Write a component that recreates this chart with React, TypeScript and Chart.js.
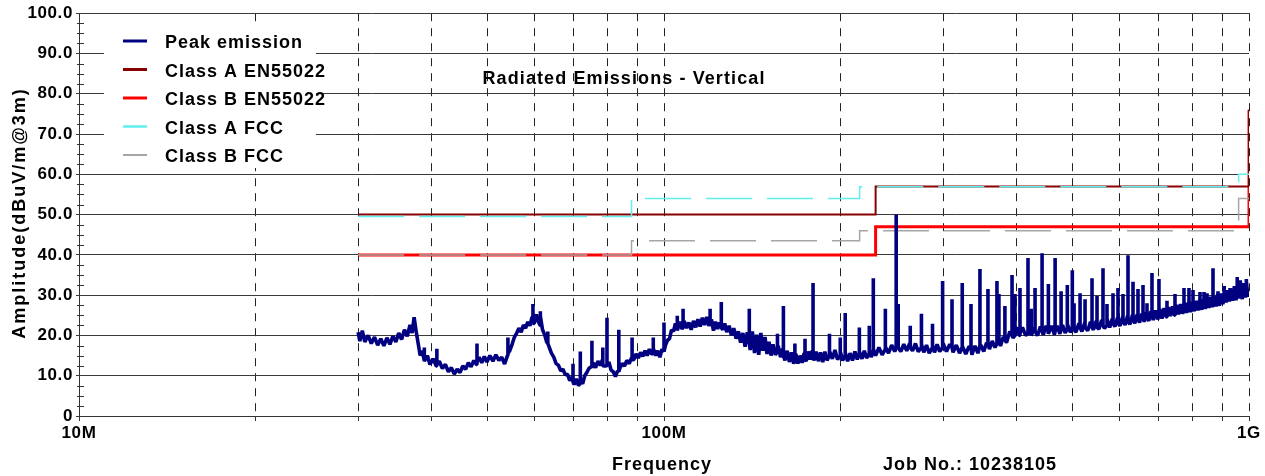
import React, { useEffect, useRef } from 'react';
import { Chart, registerables } from 'chart.js';

Chart.register(...registerables);

const FONT = '"Liberation Sans", Arial, Helvetica, sans-serif';

// ---------- axis ticks ----------
const xTickValues = [10, 20, 30, 40, 50, 60, 70, 80, 90, 100, 200, 300, 400, 500, 600, 700, 800, 900, 1000];
const xTickLabels: Record<number, string> = { 10: '10M', 100: '100M', 1000: '1G' };
const yMinorStep = 2.5;

// ---------- legend ----------
const seriesNames = ['Peak emission', 'Class A EN55022', 'Class B EN55022', 'Class A FCC', 'Class B FCC'];
const seriesColors = ['#000080', '#880000', '#ff0000', '#60eeee', '#a6a6a6'];

// ---------- limit lines (MHz, dBuV/m) ----------
const classAEN55022: [number, number][] = [[30, 50], [230, 50], [230, 57], [1000, 57], [1000, 76]];
const classBEN55022: [number, number][] = [[30, 40], [230, 40], [230, 47], [1000, 47], [1000, 76]];
const classAFCC: [number, number][] = [[30, 49.5], [88, 49.5], [88, 54], [216, 54], [216, 56.9], [960, 56.9], [960, 60], [1000, 60]];
const classBFCC: [number, number][] = [[30, 40], [88, 40], [88, 43.5], [216, 43.5], [216, 46], [960, 46], [960, 54], [1000, 54]];

// ---------- peak emission: noise band (MHz, dBuV/m) ----------
const emissionBand: [number, number][] = [
  [30.0, 20.8], [30.2, 18.6], [30.5, 21.2], [30.8, 18.4], [31.2, 20.0], [31.6, 18.0], [32.0, 19.6], [32.4, 17.6],
  [32.8, 19.2], [33.2, 17.4], [33.6, 19.4], [34.0, 17.8], [34.4, 19.8], [34.8, 18.4], [35.2, 20.6], [35.6, 19.0],
  [36.0, 21.4], [36.4, 19.8], [36.8, 22.6], [37.1, 20.6], [37.4, 24.5], [37.7, 21.0], [38.0, 18.0], [38.3, 15.0],
  [38.6, 16.2], [39.0, 13.6], [39.4, 15.0], [39.8, 12.8], [40.3, 14.2], [40.8, 12.4], [41.3, 13.6], [41.8, 11.8],
  [42.3, 12.8], [42.8, 11.0], [43.3, 12.0], [43.8, 10.4], [44.3, 11.6], [44.8, 10.8], [45.3, 12.4], [45.8, 11.6],
  [46.3, 13.2], [46.8, 12.2], [47.3, 13.8], [47.8, 12.8], [48.3, 14.6], [48.8, 13.2], [49.3, 14.8], [49.8, 13.4],
  [50.4, 15.0], [51.0, 13.6], [51.6, 15.2], [52.2, 13.8], [52.8, 14.6], [53.4, 12.9], [54.0, 15.0],
  [54.5, 16.2], [55.0, 17.8], [55.5, 19.6], [56.0, 20.6], [56.5, 21.8], [57.0, 20.8], [57.5, 22.6], [58.0, 21.8],
  [58.5, 23.4], [59.0, 22.4], [59.5, 24.6], [60.0, 23.0], [60.5, 25.2], [61.0, 23.4], [61.6, 24.8], [62.0, 21.4],
  [62.5, 20.2], [63.0, 18.4], [63.6, 17.2], [64.2, 15.6], [64.8, 14.6], [65.4, 13.0], [66.0, 12.6], [66.6, 11.2],
  [67.2, 11.6], [67.8, 10.2], [68.4, 10.4], [69.0, 8.8], [69.6, 9.6], [70.2, 7.8], [70.8, 9.2], [71.4, 7.6],
  [72.0, 8.8], [72.6, 8.0],
  [73.2, 10.0], [73.8, 10.8], [74.4, 11.8], [75.0, 12.2], [75.7, 13.2], [76.4, 12.0], [77.1, 13.6], [77.8, 12.6],
  [78.5, 14.0], [79.2, 12.4], [80.5, 13.4], [81.2, 11.4], [81.9, 11.0], [82.6, 9.8], [83.3, 11.2], [84.0, 11.8],
  [84.8, 13.0], [85.6, 12.4], [86.4, 13.8], [87.2, 13.0], [88.0, 14.4],
  [88.8, 14.0], [89.6, 15.4], [90.4, 14.4], [91.2, 15.8], [92.0, 14.8], [92.8, 16.2], [93.6, 15.0], [94.4, 16.6],
  [95.2, 15.4], [96.0, 16.8], [96.8, 15.0], [97.6, 16.2], [98.4, 14.6], [99.2, 16.6],
  [100.6, 17.6], [101.4, 18.8], [102.2, 19.2], [103.0, 21.4], [103.8, 21.0], [104.6, 23.0], [105.5, 21.2],
  [106.4, 23.4], [107.3, 21.6], [108.3, 23.6], [109.3, 21.8], [110.3, 23.2], [111.3, 21.4], [112.3, 23.6],
  [113.3, 22.0], [114.3, 24.0], [115.3, 22.2], [116.3, 24.4], [117.3, 22.6], [118.3, 24.6], [119.3, 22.4],
  [120.5, 24.0], [121.5, 21.2], [122.5, 23.4], [123.5, 21.6], [124.5, 23.2], [126.0, 21.4], [127.0, 23.0],
  [128.0, 20.8], [129.2, 22.4], [130.4, 20.0], [131.6, 21.8], [132.8, 19.2], [134.0, 21.0], [135.2, 18.2],
  [136.4, 20.6], [137.6, 17.2], [138.8, 20.8], [140.4, 16.4], [141.6, 21.0], [142.8, 15.6], [144.0, 20.2],
  [145.2, 15.2], [146.4, 20.6], [147.6, 16.2], [148.8, 19.6], [150.0, 15.4], [151.2, 18.4], [152.4, 15.0],
  [153.6, 17.8], [155.0, 15.2], [156.8, 17.4], [158.2, 14.6], [159.6, 16.8], [161.0, 13.8], [162.4, 16.2],
  [163.8, 13.4], [165.2, 15.8], [166.6, 13.0], [168.0, 15.4], [169.4, 13.0], [170.8, 15.0], [172.2, 13.2],
  [173.6, 15.6], [175.0, 13.6], [176.4, 16.0], [177.8, 14.0], [179.2, 16.2], [180.6, 13.8], [182.0, 16.0],
  [183.6, 13.6], [185.2, 15.8], [186.8, 13.4], [188.4, 16.0], [190.0, 13.8], [192.2, 16.2], [194.0, 14.2],
  [196.0, 16.4], [198.0, 14.0], [200.4, 16.0], [202.0, 13.8], [204.4, 15.8], [206.0, 13.6], [208.0, 15.6],
  [210.0, 13.8], [212.0, 16.0], [214.0, 14.0], [216.2, 16.0], [218.0, 14.2], [220.0, 16.2], [222.0, 14.4],
  [224.6, 16.6], [226.0, 14.6], [228.4, 16.6], [230.0, 15.0],
  [233.0, 17.0], [236.0, 15.2], [239.4, 17.2], [242.0, 15.6], [245.0, 17.6], [248.0, 16.0], [250.4, 17.8],
  [254.0, 16.0], [257.0, 17.8], [260.0, 16.2], [263.0, 18.0], [266.0, 16.2], [269.0, 18.0], [272.0, 16.0],
  [275.8, 17.8], [278.0, 15.8], [281.0, 17.6], [284.0, 15.6], [288.0, 17.6], [290.0, 15.8], [293.0, 17.8],
  [296.0, 16.0], [300.0, 18.0], [304.0, 16.0], [308.0, 17.8], [312.0, 15.8], [316.0, 17.6], [320.0, 15.6],
  [324.0, 17.4], [328.0, 15.4], [332.0, 17.2], [336.0, 15.2], [340.0, 17.4], [344.0, 15.6], [348.0, 17.6],
  [352.0, 16.0], [356.0, 18.2], [360.0, 16.6], [364.0, 18.6], [368.0, 17.0], [372.0, 19.0], [376.0, 17.4],
  [380.0, 19.6], [385.0, 18.2],
  [390.0, 21.0], [395.0, 19.4], [400.0, 22.0], [405.0, 20.0], [410.0, 22.0], [415.0, 20.0], [420.0, 22.0],
  [425.0, 20.0], [430.0, 22.0], [435.0, 20.0], [440.0, 22.2], [445.0, 20.2], [450.0, 22.4], [455.0, 20.4],
  [460.0, 22.4], [465.0, 20.2], [470.0, 22.4], [475.0, 20.4], [480.0, 22.6], [485.0, 20.6], [490.0, 22.8],
  [495.0, 20.8], [500.0, 22.8], [506.0, 20.8], [512.0, 23.0], [518.0, 21.0], [524.0, 23.2], [530.0, 21.2],
  [536.0, 23.4], [542.0, 21.4], [548.0, 23.6], [554.0, 21.6], [560.0, 23.8], [566.0, 21.8], [572.0, 24.0],
  [578.0, 22.0], [584.0, 24.2], [590.0, 22.2], [596.0, 24.4], [602.0, 22.4], [608.0, 24.6], [614.0, 22.6],
  [620.0, 24.8], [626.0, 22.8], [632.0, 25.0], [638.0, 23.0], [644.0, 25.2], [650.0, 23.2], [656.0, 25.4],
  [662.0, 23.4], [668.0, 25.8], [674.0, 23.6], [680.0, 26.0], [686.0, 23.8], [692.0, 26.2], [698.0, 24.0],
  [704.0, 26.6], [710.0, 24.2], [716.0, 26.8], [722.0, 24.6], [728.0, 27.0], [734.0, 24.8], [740.0, 27.2],
  [746.0, 25.0], [752.0, 27.6], [758.0, 25.2], [764.0, 27.8], [770.0, 25.4], [776.0, 28.0], [782.0, 25.6],
  [788.0, 28.2], [794.0, 25.8], [800.0, 28.4], [806.0, 26.0], [812.0, 28.6], [818.0, 26.2], [824.0, 28.8],
  [830.0, 26.4], [836.0, 29.0], [842.0, 26.6], [848.0, 29.4], [854.0, 26.8], [860.0, 29.6], [866.0, 27.0],
  [872.0, 29.8], [878.0, 27.2], [884.0, 30.2], [890.0, 27.4], [896.0, 30.4], [902.0, 27.8], [908.0, 30.8],
  [914.0, 28.2], [920.0, 31.2], [926.0, 28.4], [932.0, 31.6], [938.0, 28.6], [944.0, 32.2], [950.0, 28.8],
  [956.0, 32.8], [962.0, 29.2], [968.0, 33.4], [974.0, 29.0], [980.0, 33.0], [986.0, 29.4], [992.0, 33.4],
  [996.0, 29.6], [1000.0, 31.0],
];

// ---------- peak emission: narrow spikes (MHz, foot dB, peak dB) ----------
const emissionSpikes: [number, number, number][] = [
  [38.9, 14.0, 17.0], [40.9, 13.0, 16.7], [47.9, 13.5, 18.0], [54.1, 15.5, 19.5], [59.7, 23.0, 27.8],
  [61.4, 22.5, 26.0], [63.3, 18.0, 21.0], [69.9, 8.5, 13.0], [71.9, 8.0, 16.0], [75.3, 12.0, 18.7],
  [78.6, 12.5, 17.0], [79.9, 12.5, 24.4], [83.7, 11.0, 21.4], [88.2, 14.0, 19.5], [95.8, 15.5, 19.5],
  [100.0, 16.0, 23.2], [105.3, 22.0, 24.9], [107.8, 22.0, 26.6], [119.9, 23.0, 26.6], [125.3, 22.0, 28.3],
  [139.9, 18.0, 26.6], [156.3, 16.0, 20.4], [160.0, 15.0, 27.3], [167.4, 14.0, 18.0], [174.2, 14.0, 19.2],
  [179.8, 14.5, 33.0], [191.6, 15.0, 20.4], [200.0, 15.0, 19.5], [203.9, 15.0, 25.6], [215.5, 15.5, 22.0],
  [224.2, 15.5, 22.4], [227.7, 16.0, 34.2], [238.8, 16.5, 26.6], [249.4, 17.0, 50.0], [251.4, 17.0, 27.8],
  [263.6, 17.0, 22.4], [275.3, 17.0, 25.4], [287.6, 17.0, 22.9], [299.4, 17.0, 33.5], [310.7, 17.0, 29.0],
  [323.2, 17.0, 33.0], [334.8, 17.0, 27.8], [346.8, 17.5, 36.5], [357.9, 18.0, 31.5], [370.8, 18.0, 33.5],
  [373.7, 18.5, 30.3], [382.6, 19.0, 27.3], [393.5, 20.0, 35.0], [398.1, 20.0, 30.3], [406.0, 20.5, 31.8],
  [419.0, 20.5, 39.2], [424.0, 20.5, 26.6], [430.8, 21.0, 31.8], [442.9, 21.0, 40.4], [453.5, 21.0, 32.8],
  [466.2, 21.0, 39.2], [477.3, 21.5, 31.0], [488.7, 21.5, 32.5], [498.3, 21.5, 36.2], [502.3, 21.5, 28.0],
  [514.3, 22.0, 30.5], [524.5, 22.0, 29.0], [539.1, 22.0, 34.2], [549.8, 22.0, 29.8], [562.9, 22.5, 36.7],
  [571.8, 22.5, 27.8], [585.5, 23.0, 30.5], [597.1, 23.0, 31.8], [609.0, 23.5, 30.3], [621.1, 23.5, 39.9],
  [633.5, 24.0, 33.3], [646.0, 24.0, 31.5], [658.9, 24.5, 32.5], [669.3, 24.5, 28.0], [682.6, 25.0, 35.5],
  [701.6, 25.0, 34.0], [724.1, 25.5, 28.6], [747.3, 26.0, 30.3], [774.2, 26.5, 31.8], [789.6, 27.0, 31.8],
  [802.2, 27.0, 31.3], [824.6, 27.5, 30.8], [837.7, 28.0, 30.8], [847.6, 28.0, 30.5], [867.9, 28.5, 36.7],
  [885.1, 28.5, 31.0], [906.4, 29.0, 32.3], [928.1, 29.5, 31.8], [954.0, 30.0, 34.5], [965.4, 30.0, 33.7],
  [988.5, 30.5, 34.0],
];

function toXY(arr: [number, number][]) {
  return arr.map(([x, y]) => ({ x, y }));
}

function buildEmission() {
  const pts: { x: number; y: number }[] = emissionBand.map(([x, y]) => ({ x, y }));
  emissionSpikes.forEach(([f, foot, peak]) => {
    pts.push({ x: f, y: foot }, { x: f, y: peak }, { x: f, y: foot });
  });
  return pts.sort((a, b) => a.x - b.x);
}

const decorPlugin = {
  id: 'decor',
  beforeDraw(chart: any) {
    const ctx = chart.ctx as CanvasRenderingContext2D;
    ctx.save();
    ctx.fillStyle = '#ffffff';
    ctx.fillRect(0, 0, chart.width, chart.height);
    ctx.restore();
    (ctx as any).letterSpacing = '0.6px';
  },
  beforeDatasetsDraw(chart: any) {
    const ctx = chart.ctx as CanvasRenderingContext2D;
    const y = chart.scales.y;
    const left = chart.chartArea.left;
    ctx.save();
    ctx.strokeStyle = '#333';
    ctx.lineWidth = 1;
    for (let v = 0; v <= 100 + 1e-6; v += yMinorStep) {
      if (Math.abs(v % 10) < 1e-6) continue;
      const py = Math.round(y.getPixelForValue(v)) + 0.5;
      ctx.beginPath();
      ctx.moveTo(left - 2, py);
      ctx.lineTo(left + 5, py);
      ctx.stroke();
    }
    ctx.restore();
  },
  afterDatasetsDraw(chart: any) {
    const ctx = chart.ctx as CanvasRenderingContext2D;
    // title
    ctx.save();
    (ctx as any).letterSpacing = '1.1px';
    ctx.font = `bold 18px ${FONT}`;
    ctx.fillStyle = '#000';
    ctx.textAlign = 'center';
    ctx.textBaseline = 'alphabetic';
    ctx.fillText('Radiated Emissions - Vertical', 624, 84);
    ctx.restore();

    // legend
    ctx.save();
    ctx.fillStyle = '#ffffff';
    ctx.fillRect(104, 22, 212, 146);
    const widths = [3, 3, 3, 2.5, 2];
    seriesNames.forEach((name, i) => {
      const ly = 41 + i * 28.5;
      ctx.strokeStyle = seriesColors[i];
      ctx.lineWidth = widths[i];
      ctx.beginPath();
      ctx.moveTo(123, ly);
      ctx.lineTo(147, ly);
      ctx.stroke();
      (ctx as any).letterSpacing = '1px';
      ctx.font = `bold 18px ${FONT}`;
      ctx.fillStyle = '#000';
      ctx.textAlign = 'left';
      ctx.textBaseline = 'alphabetic';
      ctx.fillText(name, 165, ly + 7);
    });
    ctx.restore();
  },
  afterDraw(chart: any) {
    const ctx = chart.ctx as CanvasRenderingContext2D;
    ctx.save();
    ctx.fillStyle = '#000';
    ctx.font = `bold 18px ${FONT}`;
    (ctx as any).letterSpacing = '1px';
    ctx.textAlign = 'center';
    ctx.textBaseline = 'alphabetic';
    ctx.fillText('Frequency', 662, 470);
    ctx.fillText('Job No.: 10238105', 970, 470);
    ctx.translate(20, 213);
    ctx.rotate(-Math.PI / 2);
    (ctx as any).letterSpacing = '2px';
    ctx.textBaseline = 'middle';
    ctx.fillText('Amplitude(dBuV/m@3m)', 0, 0);
    ctx.restore();
  },
};

export default function App() {
  const canvasRef = useRef<HTMLCanvasElement | null>(null);

  useEffect(() => {
    if (!canvasRef.current) return;
    Chart.defaults.font.family = FONT;
    const chart = new Chart(canvasRef.current, {
      type: 'line',
      data: {
        datasets: [
          {
            label: seriesNames[0],
            data: buildEmission(),
            borderColor: seriesColors[0],
            borderWidth: 3.6,
            pointRadius: 0,
            tension: 0,
            borderJoinStyle: 'bevel',
            order: 0,
          },
          {
            label: seriesNames[1],
            data: toXY(classAEN55022),
            borderColor: seriesColors[1],
            borderWidth: 2,
            pointRadius: 0,
            order: 3,
          },
          {
            label: seriesNames[2],
            data: toXY(classBEN55022),
            borderColor: seriesColors[2],
            borderWidth: 3,
            pointRadius: 0,
            order: 4,
          },
          {
            label: seriesNames[3],
            data: toXY(classAFCC),
            borderColor: seriesColors[3],
            borderWidth: 1.5,
            borderDash: [46, 15],
            pointRadius: 0,
            order: 1,
          },
          {
            label: seriesNames[4],
            data: toXY(classBFCC),
            borderColor: seriesColors[4],
            borderWidth: 1.5,
            borderDash: [46, 15],
            pointRadius: 0,
            order: 2,
          },
        ],
      } as any,
      options: {
        animation: false,
        responsive: true,
        maintainAspectRatio: false,
        layout: { padding: { left: 0, right: 16, top: 10, bottom: 0 } },
        plugins: {
          legend: { display: false },
          title: { display: false },
          tooltip: { enabled: false },
        },
        scales: {
          x: {
            type: 'logarithmic',
            min: 10,
            max: 1000,
            afterBuildTicks: (scale: any) => {
              scale.ticks = xTickValues.map((v) => ({ value: v }));
            },
            afterFit: (scale: any) => {
              scale.height = 60;
            },
            ticks: {
              autoSkip: false,
              maxRotation: 0,
              minRotation: 0,
              padding: 2,
              color: '#000',
              font: { family: FONT, size: 17, weight: 'bold' },
              callback: (value: any) => xTickLabels[Number(value)] ?? '',
            },
            grid: {
              color: (c: any) => (c.tick && c.tick.value === 10 ? 'rgba(0,0,0,0)' : '#222'),
              tickColor: '#333',
              tickLength: 5,
              lineWidth: 1,
            },
            border: { display: true, color: '#333', width: 1, dash: [8, 7] },
          },
          y: {
            type: 'linear',
            min: 0,
            max: 100,
            afterFit: (scale: any) => {
              scale.width = 79;
            },
            ticks: {
              stepSize: 10,
              padding: 3,
              color: '#000',
              font: { family: FONT, size: 17, weight: 'bold' },
              callback: (value: any) => (Number(value) === 0 ? '0' : Number(value).toFixed(1)),
            },
            grid: { color: '#3a3a3a', tickColor: '#3a3a3a', tickLength: 3, lineWidth: 1 },
            border: { display: true, color: '#333', width: 1 },
          },
        },
      } as any,
      plugins: [decorPlugin as any],
    });
    return () => chart.destroy();
  }, []);

  return (
    <div style={{ position: 'absolute', left: 0, top: 0, width: 1265, height: 476 }}>
      <canvas ref={canvasRef} />
    </div>
  );
}
